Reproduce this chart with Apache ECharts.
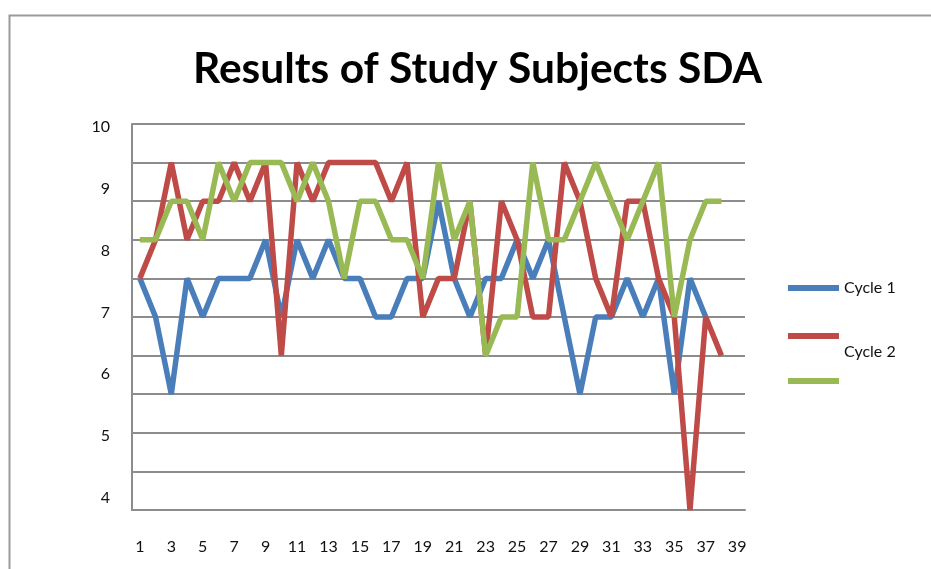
<!DOCTYPE html>
<html>
<head>
<meta charset="utf-8">
<script src="https://cdn.jsdelivr.net/npm/echarts@6/dist/echarts.min.js"></script>
<style>html,body{margin:0;padding:0;background:#fff;}#c{width:931px;height:569px;}</style>
</head>
<body>
<div id="c"></div>
<script>
const categories = ['1','2','3','4','5','6','7','8','9','10','11','12','13','14','15','16','17','18','19','20','21','22','23','24','25','26','27','28','29','30','31','32','33','34','35','36','37','38','39'];
const cycle1 = [7.5,7,6,7.5,7,7.5,7.5,7.5,8,7,8,7.5,8,7.5,7.5,7,7,7.5,7.5,8.5,7.5,7,7.5,7.5,8,7.5,8,7,6,7,7,7.5,7,7.5,6,7.5,7,null,null];
const cycle2 = [7.5,8,9,8,8.5,8.5,9,8.5,9,6.5,9,8.5,9,9,9,9,8.5,9,7,7.5,7.5,8.5,6.5,8.5,8,7,7,9,8.5,7.5,7,8.5,8.5,7.5,7,4.5,7,6.5,null];
const cycle3 = [8,8,8.5,8.5,8,9,8.5,9,9,9,8.5,9,8.5,7.5,8.5,8.5,8,8,7.5,9,8,8.5,6.5,7,7,9,8,8,8.5,9,8.5,8,8.5,9,7,8,8.5,8.5,null];
const yTickLabels = [4,5,6,7,8,9,10];
const seriesNames = ['Cycle 1','Cycle 2',' '];
const colors = ['#4A7EBB','#BE4B48','#98B954'];

const chart = echarts.init(document.getElementById('c'));
const font = 'Lato, "Liberation Sans", sans-serif';
const data = [cycle1, cycle2, cycle3];
function legendAt(i, top, extra) {
  return Object.assign({
    data: [seriesNames[i]], orient: 'vertical', left: 788, top: top, padding: 0,
    icon: 'rect', itemWidth: 51, itemHeight: 6, itemGap: 0,
    textStyle: {fontFamily: font, fontSize: 16, color: '#111'}
  }, extra || {});
}
chart.setOption({
  backgroundColor: '#fff',
  animation: false,
  color: colors,
  title: {
    text: 'Results of Study Subjects SDA', left: 193, top: 48, padding: 0,
    textStyle: {fontFamily: font, fontWeight: 'bold', fontSize: 42.5, color: '#000'}
  },
  graphic: [{
    type: 'rect', silent: true,
    shape: {x: 9.5, y: 15.5, width: 1000, height: 1000},
    style: {fill: 'none', stroke: '#9a9a9a', lineWidth: 2}
  }],
  legend: [
    legendAt(0, 280),
    legendAt(1, 304, {formatter: function (n) { return '\n' + n; },
      textStyle: {fontFamily: font, fontSize: 16, color: '#111', lineHeight: 32}}),
    legendAt(2, 373)
  ],
  grid: {left: 132, right: 186, top: 124, bottom: 59, containLabel: false},
  xAxis: {
    type: 'category', data: categories, boundaryGap: true,
    axisLine: {show: true, lineStyle: {color: '#8c8c8c', width: 2}},
    axisTick: {show: false},
    axisLabel: {interval: 1, margin: 29, fontFamily: font, fontSize: 16, color: '#111'}
  },
  yAxis: [{
    type: 'value', min: 4.5, max: 9.5, interval: 0.5, position: 'left',
    axisLine: {show: true, lineStyle: {color: '#8c8c8c', width: 2}},
    axisTick: {show: false},
    axisLabel: {show: false},
    splitLine: {show: true, lineStyle: {color: '#8c8c8c', width: 2}}
  }, {
    type: 'value', min: 3.8, max: 10.05, position: 'left', offset: 0,
    axisLine: {show: false}, axisTick: {show: false}, splitLine: {show: false},
    axisLabel: {customValues: yTickLabels, margin: 22, fontFamily: font, fontSize: 16, color: '#111'}
  }],
  series: data.map((d, i) => ({
    name: seriesNames[i], type: 'line', data: d, yAxisIndex: 0,
    showSymbol: false, symbol: 'none', connectNulls: false,
    lineStyle: {width: 5.5, color: colors[i], join: 'bevel'},
    itemStyle: {color: colors[i]}
  }))
});
</script>
</body>
</html>
